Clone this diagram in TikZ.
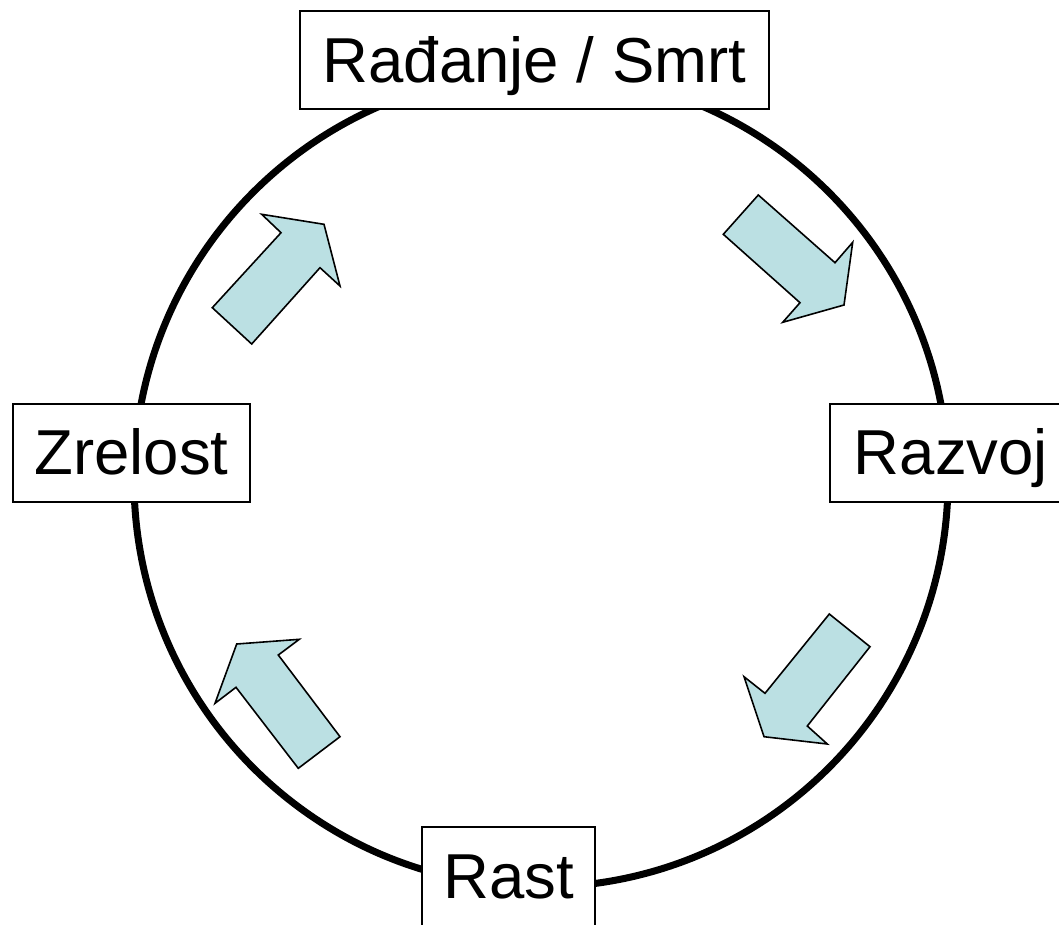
\documentclass[tikz,border=0pt]{standalone}
\usepackage{fontspec}
\setmainfont{Liberation Sans}
\definecolor{arrowfill}{RGB}{187,224,227}
\begin{document}
\begin{tikzpicture}[x=1pt,y=-1pt,
  lbl/.style={draw=black,line width=2pt,fill=white,inner sep=0pt,
    minimum height=98pt,text height=44pt,text depth=0pt,
    font=\fontsize{63.5pt}{70pt}\selectfont},
  blockarrow/.style={draw=black,line width=1.6pt,fill=arrowfill,line join=miter}]
\clip (0,0) rectangle (1059,924);
\node[circle,draw=black,line width=7pt,minimum size=814pt,inner sep=0pt] (cyc) at (541,480) {};
\node[lbl,minimum width=469pt] (top) at (534.5,60) {Rađanje / Smrt};
\node[lbl,minimum width=237pt] (left) at (131.5,452.5) {Zrelost};
\node[lbl,minimum width=300pt] (right) at (980,452.5) {Razvoj\hspace*{58pt}};
\node[lbl,minimum width=173pt,minimum height=110pt,text depth=12pt] (bottom) at (508.5,882) {Rast};
% block arrows
\draw[blockarrow] (758.3,195) -- (723.3,234.3) -- (800,302.7) -- (782.7,322.3) -- (844,305) -- (852.7,242.3) -- (835,262.7) -- cycle;
\draw[blockarrow] (829.3,614) -- (870,646.7) -- (807.3,726) -- (827.3,744) -- (764,736.7) -- (744,676.7) -- (765,693.3) -- cycle;
\draw[blockarrow] (298.3,768.3) -- (340,736.7) -- (278.3,655) -- (299.3,639.3) -- (236.7,644) -- (215,703.3) -- (236,687.3) -- cycle;
\draw[blockarrow] (212.3,307.7) -- (251.7,344) -- (320,267.7) -- (340,286) -- (324,224.3) -- (261.7,214.3) -- (281,232.7) -- cycle;
\end{tikzpicture}
\end{document}
